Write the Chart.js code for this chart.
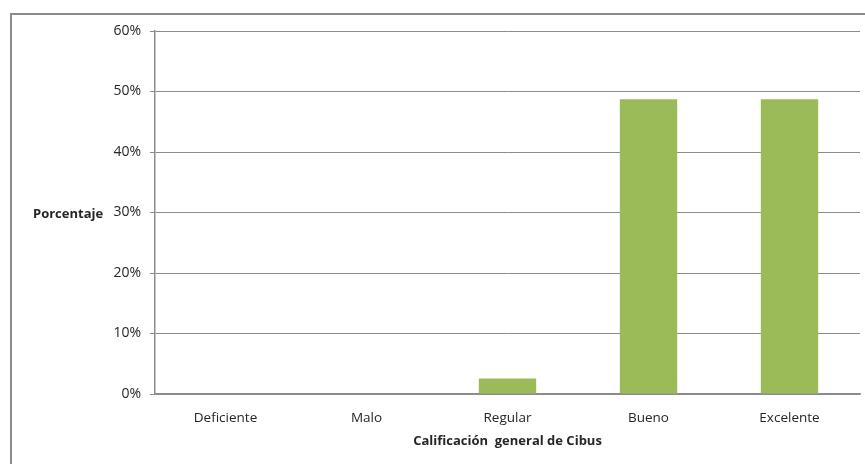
<!DOCTYPE html>
<html>
<head>
<meta charset="utf-8">
<script src="https://cdn.jsdelivr.net/npm/chart.js@4/dist/chart.umd.min.js"></script>
<style>
  html, body { margin: 0; padding: 0; background: #fff; }
  #wrap { position: relative; width: 865px; height: 464px; overflow: hidden; }
  #frame { position: absolute; left: 10px; top: 13px; width: 900px; height: 500px;
           border-left: 2px solid #8a8a8a; border-top: 2px solid #8a8a8a; }
  canvas { position: absolute; left: 0; top: 0; }
</style>
</head>
<body>
<div id="wrap">
  <div id="frame"></div>
  <canvas id="c" width="865" height="464"></canvas>
</div>
<script>
// Rating categories and the share of responses for each one (%)
const categories = ['Deficiente', 'Malo', 'Regular', 'Bueno', 'Excelente'];
const percentages = [0, 0, 2.56, 48.72, 48.72];
const yTicks = [0, 10, 20, 30, 40, 50, 60];

const yTitle = 'Porcentaje';
const xTitle = 'Calificación  general de Cibus';

const FONT = "'Open Sans', sans-serif";
const TEXT = '#262626';
const GRID = '#8c8c8c';

// Horizontal y-axis caption placed to the left of the tick labels
const yCaption = {
  id: 'yCaption',
  afterDraw(chart) {
    const ctx = chart.ctx;
    const y = chart.scales.y.getPixelForValue(30);
    ctx.save();
    ctx.font = "bold 13px " + FONT;
    ctx.fillStyle = TEXT;
    ctx.textAlign = 'left';
    ctx.textBaseline = 'middle';
    ctx.fillText(yTitle, 33, y + 2);
    ctx.restore();
  }
};

new Chart(document.getElementById('c'), {
  type: 'bar',
  data: {
    labels: categories,
    datasets: [{
      data: percentages,
      backgroundColor: '#9BBB59',
      borderWidth: 0,
      barPercentage: 0.407,
      categoryPercentage: 1
    }]
  },
  options: {
    responsive: false,
    animation: false,
    layout: { padding: { top: 31, right: 5, left: 0, bottom: 15 } },
    plugins: { legend: { display: false }, tooltip: { enabled: false } },
    scales: {
      x: {
        grid: { display: false, drawTicks: false },
        border: { display: true, color: GRID, width: 1.5 },
        ticks: { color: TEXT, font: { family: FONT, size: 13.5 }, padding: 16, maxRotation: 0 },
        title: { display: true, text: xTitle, color: TEXT,
                 font: { family: FONT, size: 13, weight: 'bold' }, padding: { top: 4, bottom: 0 } },
        afterFit(scale) { scale.height = 55; }
      },
      y: {
        min: 0,
        max: 60,
        afterBuildTicks(scale) { scale.ticks = yTicks.map(v => ({ value: v })); },
        grid: { color: GRID, lineWidth: 1, tickLength: 5, tickColor: GRID },
        border: { display: true, color: GRID, width: 1.5 },
        ticks: { color: TEXT, font: { family: FONT, size: 14 }, padding: 9,
                 callback: v => v + '%' },
        afterFit(scale) { scale.width = 155; }
      }
    }
  },
  plugins: [yCaption]
});
</script>
</body>
</html>
